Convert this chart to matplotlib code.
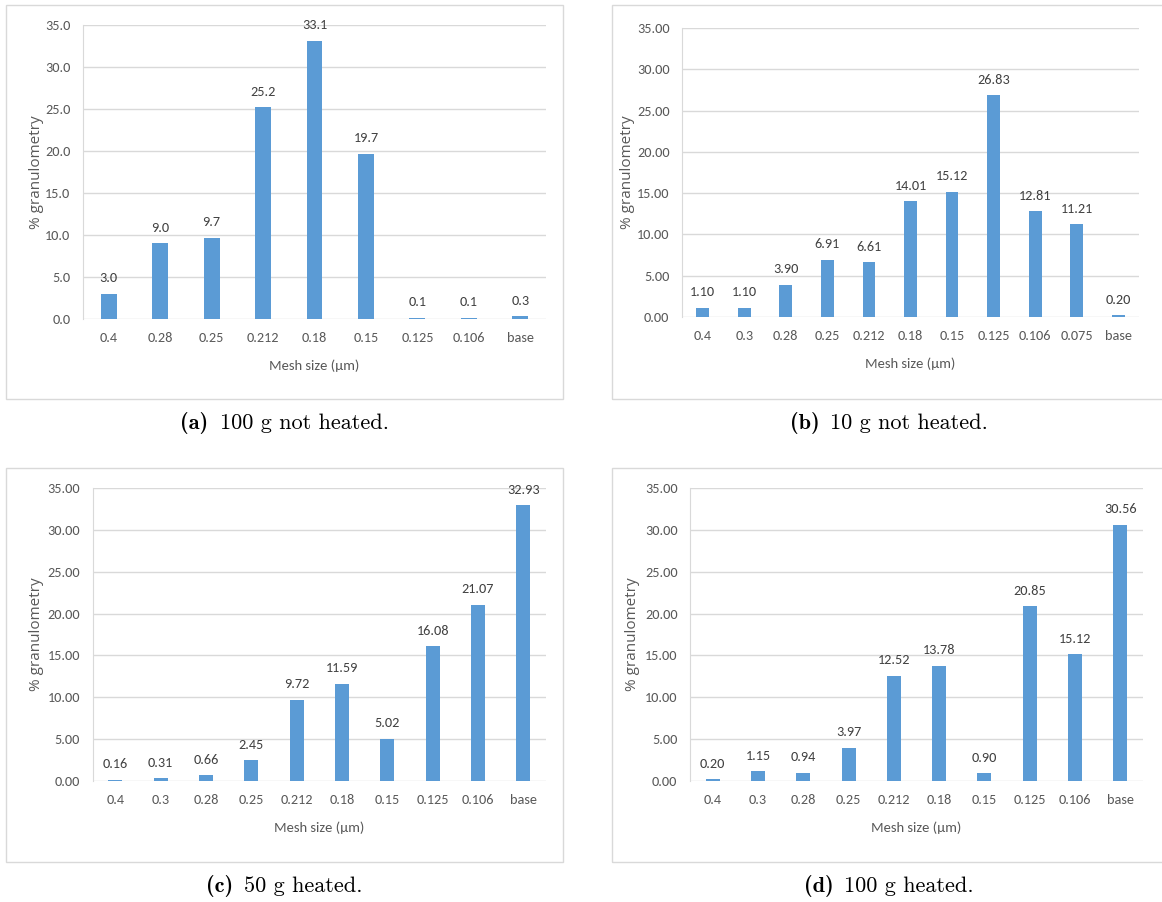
import matplotlib
matplotlib.use("Agg")
import matplotlib.pyplot as plt
from matplotlib.ticker import FormatStrFormatter
from matplotlib.patches import Rectangle
from matplotlib.transforms import IdentityTransform

W, H = 1162, 902

cats_a = ['0.4', '0.28', '0.25', '0.212', '0.18', '0.15', '0.125', '0.106', 'base']
vals_a = [3.0, 9.0, 9.7, 25.2, 33.1, 19.7, 0.1, 0.1, 0.3]

cats_b = ['0.4', '0.3', '0.28', '0.25', '0.212', '0.18', '0.15', '0.125', '0.106', '0.075', 'base']
vals_b = [1.10, 1.10, 3.90, 6.91, 6.61, 14.01, 15.12, 26.83, 12.81, 11.21, 0.20]

cats_cd = ['0.4', '0.3', '0.28', '0.25', '0.212', '0.18', '0.15', '0.125', '0.106', 'base']
vals_c = [0.16, 0.31, 0.66, 2.45, 9.72, 11.59, 5.02, 16.08, 21.07, 32.93]
vals_d = [0.20, 1.15, 0.94, 3.97, 12.52, 13.78, 0.90, 20.85, 15.12, 30.56]

BAR = '#5B9BD5'
GRID = '#D9D9D9'
TICK = '#595959'
CAL = ['Carlito', 'DejaVu Sans']
FS = 10.3

fig = plt.figure(figsize=(W / 100, H / 100), dpi=100)


def px_rect(x0, y0, x1, y1):
    # pixel box (top-left origin) -> figure fraction
    return [x0 / W, 1 - y1 / H, (x1 - x0) / W, (y1 - y0) / H]


def panel(box, plot, ylab_x, cats, vals, fmt, tag, rest):
    bx0, by0, bx1, by1 = box
    fig.patches.append(Rectangle((bx0 / W, 1 - by1 / H), (bx1 - bx0) / W, (by1 - by0) / H,
                                 transform=fig.transFigure, fill=False,
                                 edgecolor=GRID, lw=1.0))
    px0, py0, px1, py1 = plot
    ax = fig.add_axes(px_rect(px0, py0, px1, py1))
    x = range(len(cats))
    ax.bar(x, vals, width=0.31, color=BAR, zorder=3)
    for xi, v in zip(x, vals):
        ax.annotate(fmt % v, (xi, v), xytext=(0, 7), textcoords='offset points',
                    ha='center', va='bottom', fontsize=FS, color='#404040',
                    family=CAL)
    ax.set_xlim(-0.5, len(cats) - 0.5)
    ax.set_ylim(0, 35)
    ax.set_yticks(range(0, 36, 5))
    ax.yaxis.set_major_formatter(FormatStrFormatter(fmt))
    ax.set_xticks(list(x))
    ax.set_xticklabels(cats)
    ax.grid(axis='y', color=GRID, lw=1.0, zorder=0)
    for s in ['top', 'right', 'bottom']:
        ax.spines[s].set_visible(False)
    ax.spines['left'].set_color(GRID)
    ax.tick_params(length=0, colors=TICK, labelsize=FS)
    ax.tick_params(axis='x', pad=9.5)
    ax.tick_params(axis='y', pad=9)
    for lab in ax.get_xticklabels() + ax.get_yticklabels():
        lab.set_family(CAL)
    ax.set_xlabel('Mesh size (µm)', fontsize=10.5, color=TICK, family=CAL)
    ax.xaxis.label.set_va('center')
    ax.xaxis.set_label_coords(0.5, -47 / (py1 - py0))
    ax.set_ylabel('% granulometry', fontsize=11, color=TICK,
                  family=['Open Sans', 'DejaVu Sans'])
    ax.yaxis.label.set_va('center')
    ax.yaxis.set_label_coords((ylab_x - px0) / (px1 - px0), 0.5)

    # sub-caption: bold tag followed by plain text, centred under the box
    r = fig.canvas.get_renderer()
    cy = H - (by1 + 30)
    t1 = fig.text(0, cy, tag, family='cmb10', fontsize=16, va='baseline',
                  ha='left', transform=IdentityTransform())
    t2 = fig.text(0, cy, rest, family='cmr10', fontsize=16, va='baseline',
                  ha='left', transform=IdentityTransform())
    w1 = t1.get_window_extent(r).width
    w2 = t2.get_window_extent(r).width
    gap = 11
    start = (bx0 + min(bx1, 1166.5)) / 2 - (w1 + gap + w2) / 2
    t1.set_x(start)
    t2.set_x(start + w1 + gap)
    return ax


panel((6, 5, 563, 399), (83, 25, 546, 319), 36, cats_a, vals_a, '%.1f',
      '(a)', '100 g not heated.')
panel((611.5, 5, 1166.5, 399), (682, 28, 1139, 317), 627.5, cats_b, vals_b, '%.2f',
      '(b)', '10 g not heated.')
panel((6, 468, 563, 862), (92.6, 488, 546, 781), 37, cats_cd, vals_c, '%.2f',
      '(c)', '50 g heated.')
panel((611.5, 468, 1166.5, 862), (690, 488, 1143, 781), 633, cats_cd, vals_d, '%.2f',
      '(d)', '100 g heated.')

fig.savefig('out.png', dpi=100)
